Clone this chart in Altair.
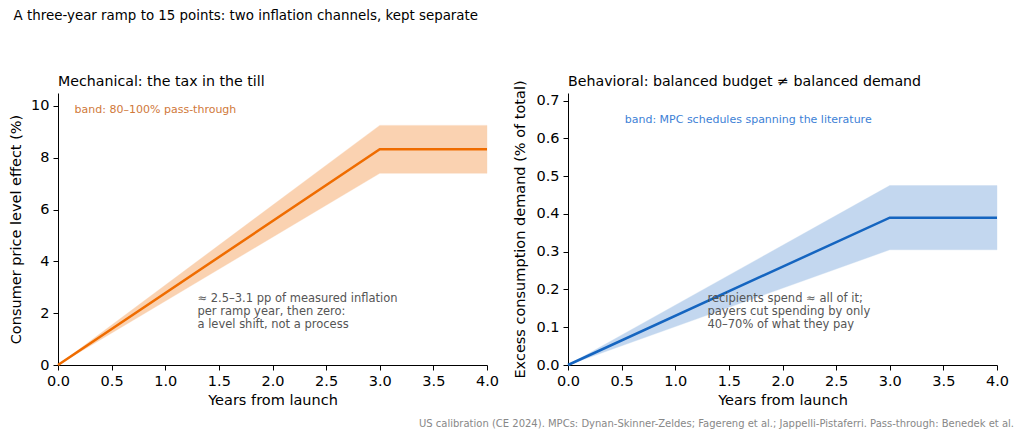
import altair as alt
import pandas as pd

# ---- data ----
years = [0.0, 3.0, 4.0]
price_mid = [0.0, 8.33, 8.33]
price_lo = [0.0, 7.40, 7.40]
price_hi = [0.0, 9.25, 9.25]

demand_mid = [0.0, 0.39, 0.39]
demand_lo = [0.0, 0.305, 0.305]
demand_hi = [0.0, 0.475, 0.475]

x_ticks = [0.0, 0.5, 1.0, 1.5, 2.0, 2.5, 3.0, 3.5, 4.0]
left_y_ticks = [0, 2, 4, 6, 8, 10]
right_y_ticks = [0.0, 0.1, 0.2, 0.3, 0.4, 0.5, 0.6, 0.7]

TITLE = "A three-year ramp to 15 points: two inflation channels, kept separate"
LEFT_TITLE = "Mechanical: the tax in the till"
RIGHT_TITLE = "Behavioral: balanced budget \u2260 balanced demand"
LEFT_BAND_NOTE = "band: 80\u2013100% pass-through"
RIGHT_BAND_NOTE = "band: MPC schedules spanning the literature"
LEFT_NOTE = ["\u2248 2.5\u20133.1 pp of measured inflation",
             "per ramp year, then zero:",
             "a level shift, not a process"]
RIGHT_NOTE = ["recipients spend \u2248 all of it;",
              "payers cut spending by only",
              "40\u201370% of what they pay"]
FOOTER = ("US calibration (CE 2024). MPCs: Dynan-Skinner-Zeldes; Fagereng et al.; "
          "Jappelli-Pistaferri. Pass-through: Benedek et al.")

FONT = "DejaVu Sans"
ORANGE = "#ef6c00"
BLUE = "#1565c0"
W, H = 429, 272

left_df = pd.DataFrame({"x": years, "mid": price_mid, "lo": price_lo, "hi": price_hi})
right_df = pd.DataFrame({"x": years, "mid": demand_mid, "lo": demand_lo, "hi": demand_hi})


def x_enc():
    return alt.X("x:Q", title="Years from launch",
                 scale=alt.Scale(domain=[0, 4], nice=False),
                 axis=alt.Axis(values=x_ticks, format=".1f", titlePadding=6,
                               labelOverlap=False))


def panel(df, color, band_opacity, ydomain, yticks, yfmt, ytitle, title,
          band_note, band_note_pos, band_note_color, band_note_align,
          note_lines, note_pos, title_pad, footer=None):
    base = alt.Chart(df)
    y_scale = alt.Scale(domain=ydomain, nice=False)
    band = base.mark_area(color=color, opacity=band_opacity, stroke=color,
                          strokeOpacity=0.35, strokeWidth=1).encode(
        x=x_enc(),
        y=alt.Y("lo:Q", scale=y_scale, title=ytitle,
                axis=alt.Axis(values=yticks, format=yfmt, titlePadding=title_pad,
                              labelOverlap=False, tickCount=len(yticks))),
        y2="hi:Q",
    )
    line = base.mark_line(color=color, strokeWidth=2.5).encode(
        x="x:Q", y="mid:Q")

    bn = pd.DataFrame({"x": [band_note_pos[0]], "y": [band_note_pos[1]], "t": [band_note]})
    band_txt = alt.Chart(bn).mark_text(
        font=FONT, fontSize=11, color=band_note_color, align=band_note_align,
        baseline="middle").encode(x="x:Q", y="y:Q", text="t:N")

    nn = pd.DataFrame({"x": [note_pos[0]], "y": [note_pos[1]], "t": ["\n".join(note_lines)]})
    note_txt = alt.Chart(nn).mark_text(
        font=FONT, fontSize=11.5, color="#555555", align="left", baseline="top",
        lineBreak="\n", lineHeight=13).encode(x="x:Q", y="y:Q", text="t:N")

    td = pd.DataFrame({"t": [title]})
    title_txt = alt.Chart(td).mark_text(
        font=FONT, fontSize=14.2, color="black", align="left",
        baseline="alphabetic").encode(x=alt.value(0), y=alt.value(-7), text="t:N")

    layers = [band, line, band_txt, note_txt, title_txt]
    if footer is not None:
        fd = pd.DataFrame({"t": [footer]})
        layers.append(alt.Chart(fd).mark_text(
            font=FONT, fontSize=10, color="#888888", align="right",
            baseline="middle").encode(
            x=alt.value(W + 17), y=alt.value(H + 59), text="t:N"))

    return alt.layer(*layers).properties(width=W, height=H)


left = panel(left_df, ORANGE, 0.3, [0, 10.5], left_y_ticks, "d",
             "Consumer price level effect (%)", LEFT_TITLE,
             LEFT_BAND_NOTE, (0.155, 9.85), "#d0793a", "left",
             LEFT_NOTE, (1.3, 2.78), 7)
right = panel(right_df, BLUE, 0.25, [0, 0.72], right_y_ticks, ".1f",
              "Excess consumption demand (% of total)", RIGHT_TITLE,
              RIGHT_BAND_NOTE, (1.68, 0.648), "#3d7fd6", "center",
              RIGHT_NOTE, (1.3, 0.19), 8, footer=FOOTER)

chart = alt.hconcat(left, right, spacing=81, bounds="flush").properties(
    padding={"left": 0, "top": 0, "right": 0, "bottom": 0},
    title=alt.TitleParams(TITLE, anchor="start", fontSize=13.4, font=FONT,
                          fontWeight="normal", color="black", offset=53, dx=5)
).configure_view(stroke=None).configure_axis(
    labelFont=FONT, titleFont=FONT, labelFontSize=14.5, titleFontSize=14.5,
    labelColor="black", titleColor="black", titleFontWeight="normal",
    domainColor="black", tickColor="black", tickSize=5, labelPadding=4,
    grid=False, domainWidth=1, labelOverlap=False,
).configure_axisX(labelFlush=False)

chart.save("out.html", embed_options={"renderer": "svg", "actions": False})
